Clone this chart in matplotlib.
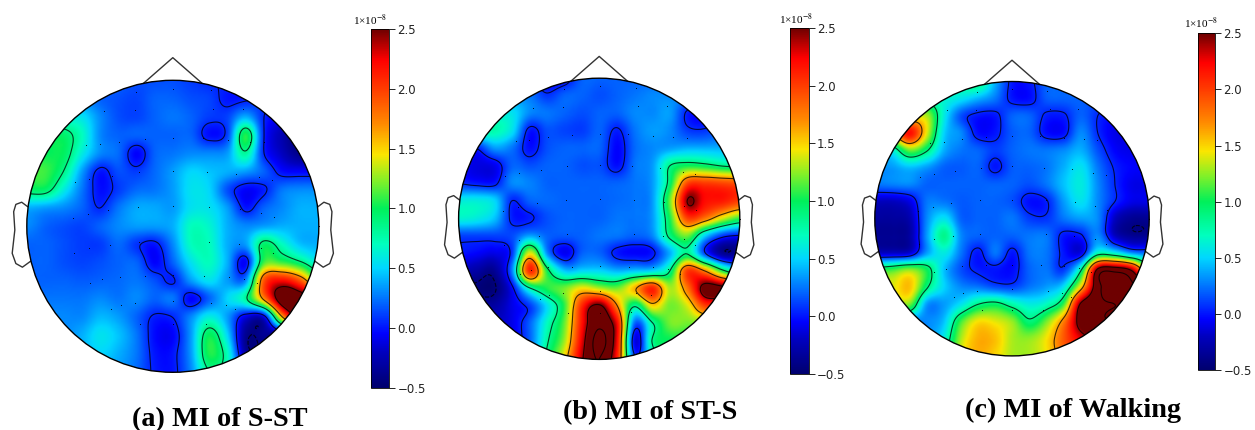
import numpy as np
import matplotlib
matplotlib.use('Agg')
import matplotlib.pyplot as plt
from matplotlib.patches import Circle
from matplotlib.cm import ScalarMappable
from matplotlib.colors import Normalize, LinearSegmentedColormap

plt.rcParams['mathtext.fontset'] = 'stix'

W, H = 1255, 430

titles = ['(a) MI of S-ST', '(b) MI of ST-S', '(c) MI of Walking']
cbar_ticks = [-0.5, 0.0, 0.5, 1.0, 1.5, 2.0, 2.5]
contour_levels = [-0.42, 0.05, 0.85, 1.65, 2.45, 2.8]

# colours, it is a bit off plain jet
cmap_values = [-0.5, -0.2, -0.05, 0.23, 0.5, 0.7, 1.0, 1.23, 1.45, 1.7, 2.0, 2.24, 2.5]
cmap_colors = ['#00006e', '#0000c0', '#0000ff', '#006eff', '#00d7ff', '#00ffbe', '#00f05a',
               '#82f028', '#fae600', '#ff8c00', '#ff3c00', '#ff0000', '#6e0000']

# electrode positions, offsets from the head centre as read in the zoom of panel a
sensor_x = [-110, 1, 113, -207, -114, 121, 211, -260, -217, -160, -84, 1, 90, 166, 230, 272,
            -293, -250, -182, -100, 1, 102, 190, 259, 298, -253, -298, -193, -103, 1, 108, 200,
            265, 302, -296, -250, -187, -101, 109, 197, 263, 299, -247, -211, -158, -83, 1, 93,
            167, 214, 251, -184, -155, -113, 1, 114, 160, 187, -97, 1, 99, 437]
sensor_y = [402, 412, 408, 345, 347, 351, 350, 242, 245, 253, 261, 265, 263, 258, 253, 251,
            133, 143, 152, 163, 167, 163, 157, 147, 138, 38, 24, 50, 58, 61, 58, 52,
            41, 28, -80, -65, -55, -48, -48, -54, -64, -80, -171, -159, -151, -149, -147, -149,
            -151, -157, -171, -248, -237, -230, -224, -230, -237, -248, -292, -292, -291, 0]
sensor_r = 437.0

# scalp values on a 17x17 grid, top row first (units of 1e-8)
s_st_values = [
    [.3, .3, .3, .3, .25, .2, .15, .15, .15, .1, .05, .05, .05, .1, .1, .1, .1],
    [.35, .35, .35, .3, .2, .15, .12, .2, .2, .15, .12, .0, .02, .1, .1, .1, .1],
    [.6, .6, .6, .55, .3, .15, .12, .2, .25, .2, .1, .12, .4, .05, -.1, -.2, -.2],
    [.9, .95, .95, .7, .3, .2, .2, .2, .2, .2, -.02, .12, 1.05, .05, -.25, -.45, -.45],
    [1, 1, .98, .6, .3, .22, -.05, .2, .25, .3, .3, .35, .8, .05, -.2, -.4, -.4],
    [1.1, 1.1, .85, .35, .0, .15, .1, .22, .35, .5, .45, .4, .35, .2, -.02, -.05, -.05],
    [.95, .95, .6, .25, -.02, .1, .22, .25, .35, .55, .5, .15, -.05, .02, .25, .3, .3],
    [.4, .35, .3, .2, .05, .25, .38, .38, .35, .55, .55, .35, .0, .2, .3, .4, .4],
    [.3, .2, .15, .12, .2, .3, .35, .35, .4, .7, .65, .4, .3, .35, .4, .4, .4],
    [.2, .2, .15, .1, .1, .22, .08, .0, .3, .7, .7, .4, .35, .95, .7, .45, .4],
    [.2, .2, .15, .12, .15, .2, .2, -.05, .2, .55, .7, .4, -.05, 1.1, 1.1, .9, .6],
    [.2, .2, .2, .18, .2, .22, .25, .15, .03, .35, .55, .35, .3, 1.9, 2.2, 1.9, 1.2],
    [.25, .25, .25, .25, .3, .25, .3, .2, .25, -.05, .2, .5, .8, 1.7, 2.7, 2.7, 2.5],
    [.3, .3, .3, .3, .42, .35, .2, .02, .05, .3, .6, .35, -.1, -.1, 1.6, 2.6, 2.6],
    [.3, .3, .3, .4, .55, .45, .25, -.03, -.05, .35, 1.0, .5, -.36, -.36, -.3, .5, .5],
    [.3, .3, .3, .4, .5, .4, .25, .0, .0, .35, 1.05, .7, -.3, -.36, -.3, .2, .2],
    [.3, .3, .3, .4, .4, .35, .22, .02, .0, .3, .85, .7, .1, -.1, -.1, .2, .2],
]
st_s_values = [
    [.2, .2, .2, .2, .1, -.1, -.05, .2, .2, .2, .2, .2, .2, .2, .2, .2, .2],
    [.3, .3, .3, .3, .25, .08, .2, .2, .15, .2, .25, .3, .3, .3, .2, .2, .2],
    [.6, .6, .6, .55, .3, .25, .2, .15, .2, .2, .3, .3, .35, .02, -.05, .1, .1],
    [.7, .75, .75, .55, .0, .15, .12, .1, .2, .02, .25, .35, .3, .1, .08, .2, .2],
    [.1, .05, .35, .25, -.02, .15, .2, .2, .2, -.05, .22, .3, .35, .4, .4, .4, .4],
    [-.05, -.12, -.08, .2, .15, .2, .2, .15, .15, -.02, .25, .35, .85, 1.0, .95, .85, .8],
    [.05, .0, .0, .3, .28, .2, .2, .2, .2, .2, .25, .35, .95, 1.95, 2.0, 1.95, 1.9],
    [.6, .6, .5, .05, .2, .22, .2, .2, .2, .22, .25, .35, 1.2, 2.45, 2.2, 2.15, 2.0],
    [.65, .6, .45, .02, .02, .15, .2, .2, .2, .25, .25, .35, 1.05, 2.0, 1.8, 1.4, 1.1],
    [.12, .12, .12, .14, .35, .2, .18, .2, .25, .25, .2, .3, .9, 1.2, .5, .1, .0],
    [.0, -.05, -.1, .1, 1.4, .3, -.08, .2, .2, .0, -.05, .0, .4, .85, .1, -.36, -.36],
    [-.2, -.3, -.35, .3, 2.1, 1.0, .45, .5, .5, .4, .45, .5, .85, 2.0, 1.7, 1.0, .6],
    [-.4, -.45, -.45, -.05, .75, 1.05, 1.2, 1.45, 1.3, 1.2, 1.6, 2.1, 1.3, 1.8, 2.6, 2.6, 2.4],
    [-.3, -.3, -.3, -.1, .1, .55, 1.1, 2.1, 2.55, 1.7, .85, 1.5, 1.2, 1.4, 2.0, 2.0, 2.0],
    [-.2, -.2, -.2, -.1, .2, .7, 1.2, 2.2, 2.75, 2.2, .2, .8, 1.2, 1.2, 1.2, 1.2, 1.2],
    [-.2, -.2, -.2, -.1, .2, .8, 1.3, 2.3, 2.9, 2.2, -.1, .85, 1.0, 1.0, 1.0, 1.0, 1.0],
    [-.2, -.2, -.2, -.1, .3, .9, 1.5, 2.4, 2.8, 2.1, .1, .7, 1, 1, 1, 1, 1],
]
walking_values = [
    [.5, .5, .5, .5, .7, .8, .9, .4, .0, .0, .2, .2, .2, .2, .2, .2, .2],
    [.6, .6, .6, .7, .65, .55, .4, .25, .0, -.02, .18, .2, .2, .15, .1, .1, .1],
    [1, 1, 1.3, 1.3, .6, .15, .0, .0, .2, .2, .02, .02, .2, .05, -.05, -.1, -.1],
    [1.5, 1.6, 2.2, 1.4, .5, .3, -.02, .0, .18, .2, -.02, -.02, .3, .05, -.1, -.1, -.1],
    [.6, .65, 1.2, .9, .4, .25, .2, .1, .2, .25, .25, .3, .4, .15, -.05, -.1, -.1],
    [.3, .35, .45, .35, .2, .18, .2, .0, .18, .2, .25, .4, .55, .25, .03, -.05, -.05],
    [.25, .28, .3, .2, .2, .2, .2, .2, .2, .15, .25, .45, .6, .3, .05, -.1, -.1],
    [-.2, -.2, -.1, .25, .25, .18, .2, .2, .15, -.02, .03, .35, .55, .3, .05, -.1, -.1],
    [-.32, -.32, -.25, .3, .55, .2, .2, .2, .25, .1, .08, .25, .35, .3, -.2, -.36, -.36],
    [-.36, -.36, -.3, .35, .85, .3, .2, .2, .2, .25, .25, .0, .02, .3, -.2, -.36, -.36],
    [-.2, -.2, -.15, .35, .6, .25, .0, .25, -.0, .25, .25, .0, -.1, .7, .6, .3, .2],
    [1.0, 1.1, 1.25, 1.0, .45, .15, .02, -.0, -.03, .2, .25, .1, .8, 2.55, 2.7, 2.4, 1.2],
    [1.4, 1.4, 1.55, .9, .5, .3, .25, .15, .12, .25, .35, .55, 1.5, 2.7, 2.85, 2.85, 2.8],
    [1.2, 1.2, 1.2, .35, .35, .55, .85, .95, .75, .6, .7, 1.1, 2.5, 2.75, 2.8, 2.8, 2.8],
    [.3, .3, .3, .3, .45, 1.1, 1.45, 1.4, 1.25, .9, 1.2, 1.75, 2.6, 2.75, 2.8, 2.8, 2.8],
    [.3, .3, .3, .3, .6, 1.3, 1.6, 1.55, 1.3, 1.25, 1.45, 1.9, 2.3, 2.5, 2.5, 2.5, 2.5],
    [.3, .3, .3, .3, .7, 1.4, 1.6, 1.5, 1.3, 1.3, 1.45, 1.8, 2, 2, 2, 2, 2],
]
panel_values = [s_st_values, st_s_values, walking_values]

# outline of the left ear, in head radii
ear_x = [-0.995, -1.035, -1.075, -1.09, -1.082, -1.10, -1.075, -1.03, -0.975]
ear_y = [0.135, 0.165, 0.15, 0.10, -0.025, -0.185, -0.255, -0.28, -0.24]

# layout in pixels: head centre x, y, radius, then colorbar left, right, top, bottom
layout = [
    (172.8, 226.3, 146, 370.7, 389, 29, 387.7),
    (599.2, 218.8, 140.6, 790.3, 808.7, 28, 374),
    (1012, 218.7, 137.2, 1198.3, 1215, 33.3, 370),
]
title_pos = [(220, 420), (650.5, 412.5), (1073, 410)]
exp_pos = [(369.5, 20), (796, 19), (1201, 23.5)]


def smooth_grid(z, k=12):
    # catmull-rom upsampling so the shading and the contours are not blocky
    z = np.asarray(z, dtype=float)
    for axis in (0, 1):
        z = np.moveaxis(z, axis, 0)
        p = np.vstack([z[:1], z, z[-1:]])
        n = z.shape[0]
        t = np.arange((n - 1) * k + 1) / k
        i = np.minimum(t.astype(int), n - 2)
        f = (t - i)[:, None]
        p0, p1, p2, p3 = p[i], p[i + 1], p[i + 2], p[i + 3]
        z = 0.5 * (2 * p1 + (p2 - p0) * f + (2 * p0 - 5 * p1 + 4 * p2 - p3) * f ** 2
                   + (3 * p1 - p0 - 3 * p2 + p3) * f ** 3)
        z = np.moveaxis(z, 0, axis)
    return z


fig = plt.figure(figsize=(W / 100, H / 100), dpi=100)
norm = Normalize(-0.5, 2.5)
stops = [(v + 0.5) / 3 for v in cmap_values]
ref_cmap = LinearSegmentedColormap.from_list('ref_jet', list(zip(stops, cmap_colors)), N=512)

for n in range(3):
    cx, cy, r, bl, br, bt, bb = layout[n]
    span = 1.2
    ax = fig.add_axes([(cx - span * r) / W, 1 - (cy + span * r) / H, 2 * span * r / W, 2 * span * r / H])
    ax.set_xlim(-span, span)
    ax.set_ylim(-span, span)
    ax.axis('off')

    z = smooth_grid(panel_values[n])
    xs = np.linspace(-1, 1, z.shape[1])
    ys = np.linspace(1, -1, z.shape[0])
    clip = Circle((0, 0), 1, transform=ax.transData)
    im = ax.imshow(z, cmap=ref_cmap, norm=norm, extent=[-1, 1, -1, 1], interpolation='bilinear', zorder=1)
    im.set_clip_path(clip)
    cs = ax.contour(xs, ys, z, levels=contour_levels, colors='k', linewidths=0.8, alpha=0.75, zorder=2)
    cs.set_clip_path(clip)

    ax.plot(np.array(sensor_x) / sensor_r, np.array(sensor_y) / sensor_r, 'k.', ms=1.5, mew=0, zorder=3)
    ax.add_patch(Circle((0, 0), 1, fill=False, ec='k', lw=1, zorder=4))
    ax.plot([-0.2, 0, 0.2], [0.98, 1.155, 0.98], color='#333333', lw=1)
    ax.plot(ear_x, ear_y, color='#333333', lw=1)
    ax.plot(-np.array(ear_x), ear_y, color='#333333', lw=1)

    cax = fig.add_axes([bl / W, 1 - bb / H, (br - bl) / W, (bb - bt) / H])
    cb = fig.colorbar(ScalarMappable(norm=norm, cmap=ref_cmap), cax=cax)
    cb.set_ticks(cbar_ticks)
    cb.ax.tick_params(labelsize=8.5, length=4, width=0.7, pad=2, colors='#222222')
    cb.outline.set_linewidth(0.6)

    fig.text(exp_pos[n][0] / W, 1 - exp_pos[n][1] / H, r'1×10$^{-8}$', family='Liberation Serif',
             fontsize=8, ha='center', va='center')
    fig.text(title_pos[n][0] / W, 1 - title_pos[n][1] / H, titles[n], family='Liberation Serif',
             weight='bold', fontsize=20.3, ha='center', va='center')

fig.savefig('out.png', dpi=100)
